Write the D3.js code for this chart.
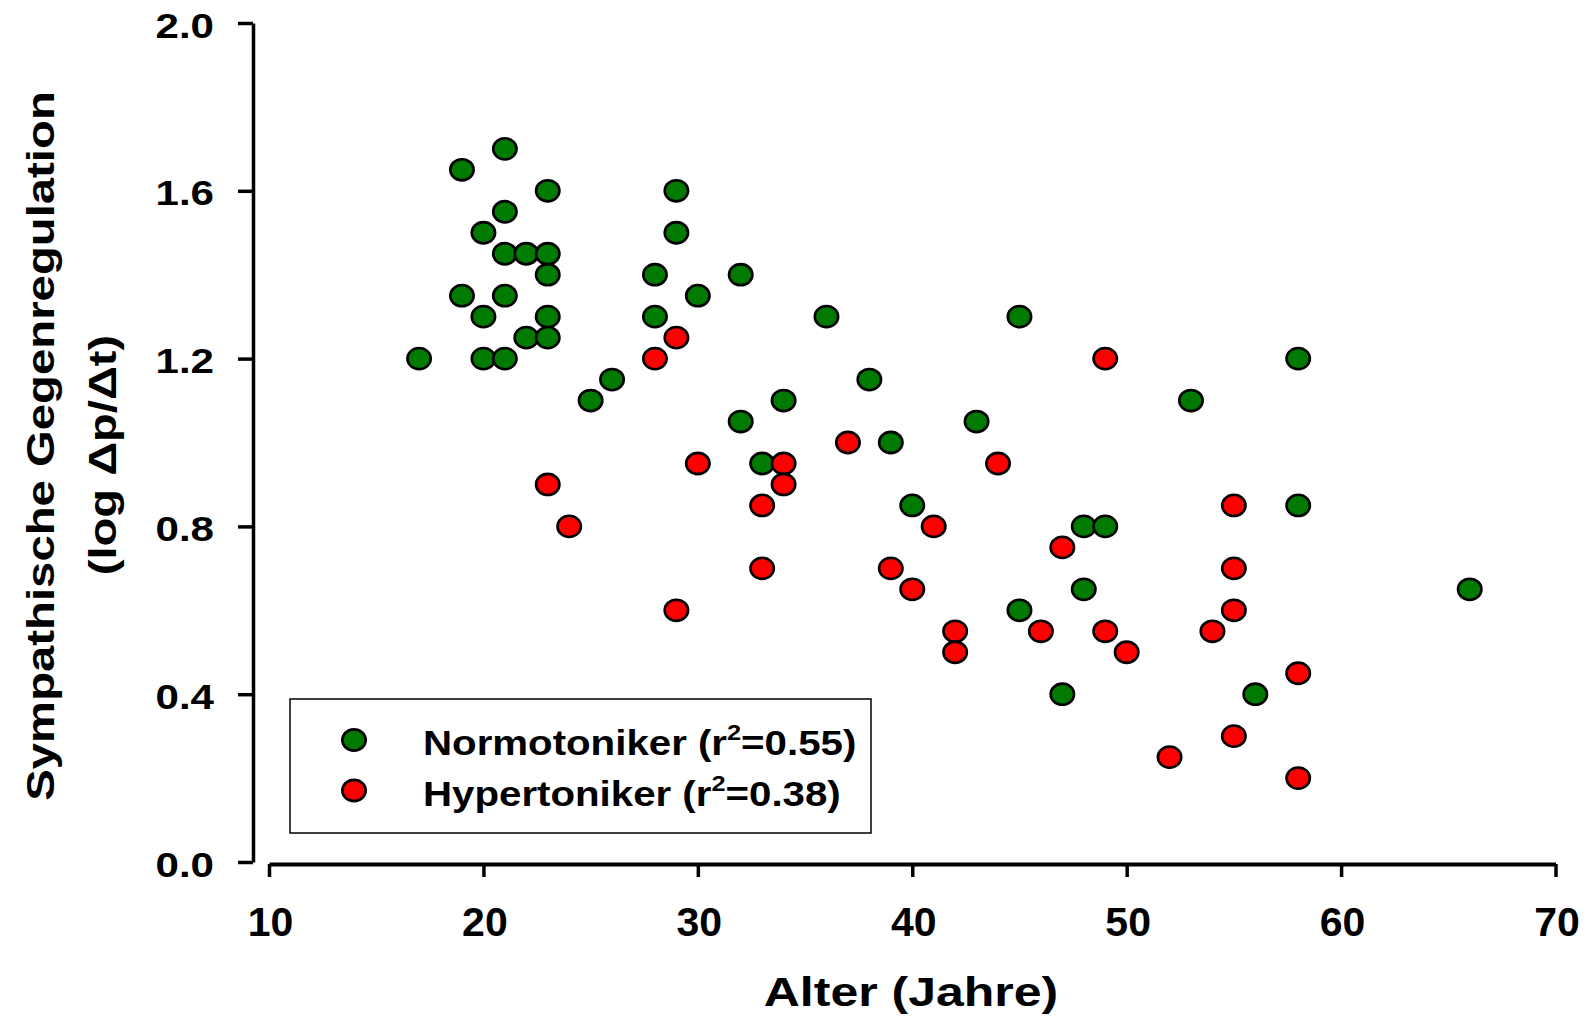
<!DOCTYPE html>
<html>
<head>
<meta charset="utf-8">
<script src="https://cdn.jsdelivr.net/npm/d3@7"></script>
<style>
  body { margin: 0; background: #fff; }
  text { font-family: "Liberation Sans", Arial, sans-serif; font-weight: bold; fill: #000; }
</style>
</head>
<body>
<svg id="chart"></svg>
<script>
// Normotoniker (green)
const normoAge = [17, 19, 19, 20, 20, 20, 21, 21, 21, 21, 21, 22, 22, 23, 23, 23, 23, 23,
                  25, 26, 28, 28, 29, 29, 30, 32, 32, 33, 34, 36, 38, 39, 40, 43, 45, 45,
                  47, 48, 48, 49, 53, 56, 58, 58, 66];
const normoVal = [1.20, 1.65, 1.35, 1.50, 1.30, 1.20, 1.70, 1.55, 1.45, 1.35, 1.20, 1.45, 1.25,
                  1.60, 1.45, 1.40, 1.30, 1.25, 1.10, 1.15, 1.40, 1.30, 1.60, 1.50, 1.35,
                  1.40, 1.05, 0.95, 1.10, 1.30, 1.15, 1.00, 0.85, 1.05, 1.30, 0.60,
                  0.40, 0.80, 0.65, 0.80, 1.10, 0.40, 1.20, 0.85, 0.65];

// Hypertoniker (red)
const hyperAge = [23, 24, 28, 29, 29, 30, 33, 33, 34, 34, 37, 39, 40, 41, 42, 42, 44, 46,
                  47, 49, 49, 50, 52, 54, 55, 55, 55, 55, 58, 58];
const hyperVal = [0.90, 0.80, 1.20, 1.25, 0.60, 0.95, 0.85, 0.70, 0.95, 0.90, 1.00, 0.70,
                  0.65, 0.80, 0.55, 0.50, 0.95, 0.55, 0.75, 1.20, 0.55, 0.50, 0.25, 0.55,
                  0.85, 0.70, 0.60, 0.30, 0.45, 0.20];

const xTicks = [10, 20, 30, 40, 50, 60, 70];
const yTicks = [0.0, 0.4, 0.8, 1.2, 1.6, 2.0];
const legendNames = ["Normotoniker", "Hypertoniker"];
const legendR2 = ["0.55", "0.38"];
const colors = ["#007a00", "#ff0000"];

const width = 1587, height = 1024;
const svg = d3.select("#chart").attr("width", width).attr("height", height);

const xscale = d3.scaleLinear().domain([10, 70]).range([269, 1555.5]);
const yscale = d3.scaleLinear().domain([0, 2]).range([862, 23]);

// y axis
const yaxis = d3.axisLeft(yscale).tickValues(yTicks).tickSize(15).tickSizeOuter(0)
    .tickFormat(d3.format(".1f"));
const yg = svg.append("g").attr("transform", "translate(253,0)").call(yaxis);
yg.select(".domain").attr("stroke-width", 3.5);
yg.selectAll(".tick line").attr("stroke-width", 3.5);
yg.selectAll(".tick text")
    .attr("x", null).attr("dy", null)
    .attr("text-anchor", "end")
    .style("font-size", "36px")
    .attr("transform", "translate(-39,14) scale(1.17,1)");

// x axis
const xaxis = d3.axisBottom(xscale).tickValues(xTicks).tickSize(13).tickSizeOuter(0);
const xg = svg.append("g").attr("transform", "translate(0,864)").call(xaxis);
xg.select(".domain").attr("stroke-width", 4);
xg.selectAll(".tick line").attr("stroke-width", 3.5);
xg.selectAll(".tick text")
    .attr("y", null).attr("dy", null)
    .style("font-size", "41px")
    .attr("transform", "translate(1,72)");
svg.selectAll(".domain, .tick line").attr("stroke", "#000");

// axis titles
svg.append("text")
    .attr("text-anchor", "middle")
    .style("font-size", "40px")
    .attr("transform", "translate(911,1006) scale(1.25,1)")
    .text("Alter (Jahre)");

svg.append("text")
    .attr("text-anchor", "middle")
    .style("font-size", "38px")
    .attr("transform", "translate(54,446) rotate(-90) scale(1.245,1)")
    .text("Sympathische Gegenregulation");

svg.append("text")
    .attr("text-anchor", "middle")
    .style("font-size", "38px")
    .attr("transform", "translate(116,455) rotate(-90) scale(1.24,1)")
    .text("(log \u0394p/\u0394t)");

// points
const drawSeries = (ages, vals, color) => {
    svg.append("g").selectAll("ellipse")
        .data(ages.map((a, i) => ({ x: a, y: vals[i] })))
        .enter().append("ellipse")
        .attr("cx", d => xscale(d.x))
        .attr("cy", d => yscale(d.y))
        .attr("rx", 11.7)
        .attr("ry", 10.6)
        .attr("fill", color)
        .attr("stroke", "#000")
        .attr("stroke-width", 2.6);
};
drawSeries(normoAge, normoVal, colors[0]);
drawSeries(hyperAge, hyperVal, colors[1]);

// legend
const legend = svg.append("g");
legend.append("rect")
    .attr("x", 290).attr("y", 699)
    .attr("width", 581).attr("height", 134)
    .attr("fill", "#fff").attr("stroke", "#000").attr("stroke-width", 1.5);

legendNames.forEach((name, i) => {
    const cy = 740 + i * 50.5;
    legend.append("ellipse")
        .attr("cx", 354).attr("cy", cy)
        .attr("rx", 11.7).attr("ry", 10.6)
        .attr("fill", colors[i]).attr("stroke", "#000").attr("stroke-width", 2.6);
    const t = legend.append("text")
        .style("font-size", "35px")
        .attr("transform", `translate(423,${cy + 15}) scale(1.15,1)`);
    t.append("tspan").text(name + " (r");
    t.append("tspan").style("font-size", "22px").attr("dy", -15).text("2");
    t.append("tspan").attr("dy", 15).text("=" + legendR2[i] + ")");
});
</script>
</body>
</html>
